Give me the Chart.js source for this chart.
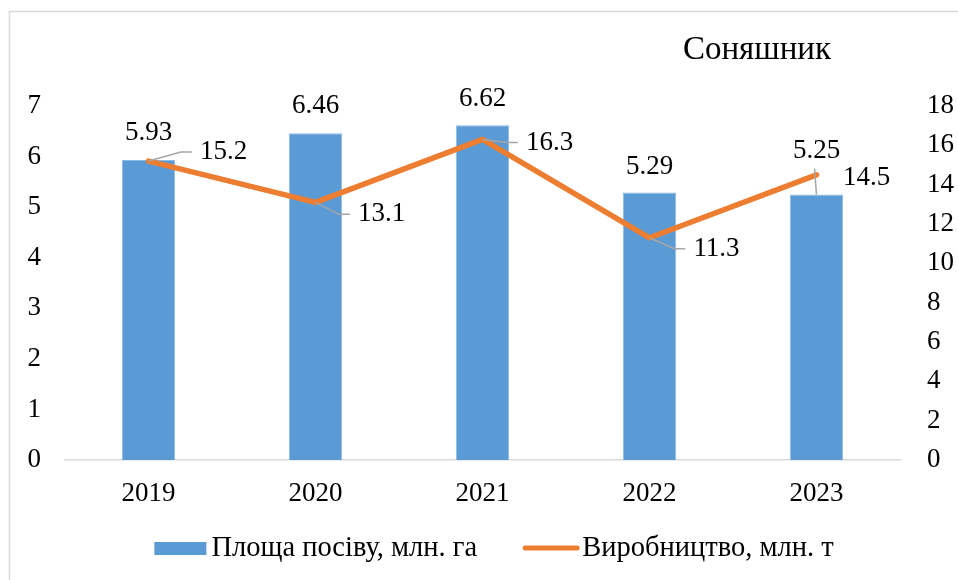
<!DOCTYPE html>
<html>
<head>
<meta charset="utf-8">
<script src="https://cdn.jsdelivr.net/npm/chart.js@4"></script>
<style>
  html, body { margin: 0; padding: 0; background: #fff; }
  canvas { display: block; }
</style>
</head>
<body>
<canvas id="chart" width="958" height="580"></canvas>
<script>
const years = [`2019`, `2020`, `2021`, `2022`, `2023`];
const areaValues = [5.93, 6.46, 6.62, 5.29, 5.25];
const productionValues = [15.2, 13.1, 16.3, 11.3, 14.5];
const areaLabel = `Площа посіву, млн. га`;
const productionLabel = `Виробництво, млн. т`;
const chartTitle = `Соняшник`;

const FONT = `"Liberation Serif", "Times New Roman", serif`;
const BLUE = `#5B9BD5`;
const ORANGE = `#ED7D31`;
const LEADER = `#A6A6A6`;

// label placement relative to the point: [dx, dy, leader?]
const areaLabelShift = [[0, -27, false], [0, -27, false], [0, -26, false], [0, -26, false], [0, -44, true]];
const productionLabelShift = [[75, -9, true], [66, 12, true], [67, 3, true], [67, 11, true], [50, 3, false]];

const frame = {
  id: `frame`,
  beforeDraw(chart) {
    const {ctx} = chart;
    ctx.save();
    ctx.fillStyle = `#fff`;
    ctx.fillRect(0, 0, chart.width, chart.height);
    ctx.strokeStyle = `#D9D9D9`;
    ctx.lineWidth = 1.5;
    ctx.strokeRect(9.5, 11.5, 1000, 1000);
    ctx.fillStyle = `#000`;
    ctx.font = `33px ${FONT}`;
    ctx.textAlign = `center`;
    ctx.textBaseline = `middle`;
    ctx.fillText(chartTitle, 757, 50);
    ctx.restore();
  }
};

// legend drawn by hand: bar swatch + line swatch, centred under the plot
const bottomLegend = {
  id: `bottomLegend`,
  afterDraw(chart) {
    const {ctx} = chart;
    const y = 549;
    ctx.save();
    ctx.font = `28.5px ${FONT}`;
    ctx.textBaseline = `middle`;
    ctx.textAlign = `left`;
    const w1 = ctx.measureText(areaLabel).width;
    const w2 = ctx.measureText(productionLabel).width;
    const total = 52 + 5 + w1 + 46 + 56 + 3 + w2;
    let x = 494 - total / 2;

    ctx.fillStyle = BLUE;
    ctx.fillRect(x, y - 7, 52, 13);
    x += 57;
    ctx.fillStyle = `#000`;
    ctx.fillText(areaLabel, x, y);
    x += w1 + 46;

    ctx.strokeStyle = ORANGE;
    ctx.lineWidth = 5;
    ctx.lineCap = `round`;
    ctx.beginPath();
    ctx.moveTo(x + 2, y - 1);
    ctx.lineTo(x + 54, y - 1);
    ctx.stroke();
    x += 59;
    ctx.fillText(productionLabel, x, y);
    ctx.restore();
  }
};

const valueLabels = {
  id: `valueLabels`,
  afterDatasetsDraw(chart) {
    const {ctx} = chart;
    ctx.save();
    ctx.font = `27px ${FONT}`;
    ctx.textAlign = `center`;
    ctx.textBaseline = `middle`;

    const drawSet = (index, values, shifts) => {
      chart.getDatasetMeta(index).data.forEach((el, i) => {
        const [dx, dy, leader] = shifts[i];
        const x = el.x;
        const y = el.y;
        const text = String(values[i]);
        const w = ctx.measureText(text).width;
        if (leader) {
          ctx.strokeStyle = LEADER;
          ctx.lineWidth = 1.5;
          ctx.beginPath();
          ctx.moveTo(x, y);
          if (dx === 0) {
            ctx.lineTo(x - 2, y + dy + 18);
          } else {
            const ex = x + dx - w / 2 - 8;
            const ey = y + dy;
            ctx.lineTo(ex - 11, ey);
            ctx.lineTo(ex, ey);
          }
          ctx.stroke();
        }
        ctx.fillStyle = `#000`;
        ctx.fillText(text, x + dx, y + dy);
      });
    };

    drawSet(0, areaValues, areaLabelShift);
    drawSet(1, productionValues, productionLabelShift);
    ctx.restore();
  }
};

Chart.defaults.font.family = FONT;
Chart.defaults.color = `#000`;

new Chart(document.getElementById(`chart`), {
  data: {
    labels: years,
    datasets: [
      {
        type: `bar`,
        label: areaLabel,
        data: areaValues,
        backgroundColor: BLUE,
        borderColor: `#8DBAE3`,
        borderWidth: 1,
        barPercentage: 0.32,
        categoryPercentage: 1,
        yAxisID: `y`,
        order: 2
      },
      {
        type: `line`,
        label: productionLabel,
        data: productionValues,
        borderColor: ORANGE,
        backgroundColor: ORANGE,
        borderWidth: 5.5,
        borderCapStyle: `round`,
        borderJoinStyle: `round`,
        pointRadius: 0,
        tension: 0,
        yAxisID: `y1`,
        order: 1
      }
    ]
  },
  options: {
    responsive: false,
    animation: false,
    devicePixelRatio: 1,
    layout: {padding: {top: 106, left: 0, right: 0, bottom: 10}},
    scales: {
      x: {
        grid: {display: false, drawTicks: false},
        border: {color: `#D9D9D9`, width: 1.5},
        ticks: {font: {size: 27}, padding: 18},
        afterFit(scale) {
          scale.height = 110;
        }
      },
      y: {
        position: `left`,
        min: 0,
        max: 7,
        ticks: {stepSize: 1, font: {size: 27}, padding: 24},
        grid: {display: false, drawTicks: false},
        border: {display: false},
        afterFit(scale) {
          scale.width = 65;
        }
      },
      y1: {
        position: `right`,
        min: 0,
        max: 18,
        ticks: {stepSize: 2, font: {size: 27}, padding: 27},
        grid: {display: false, drawTicks: false},
        border: {display: false},
        afterFit(scale) {
          scale.width = 58;
        }
      }
    },
    plugins: {
      legend: {display: false},
      tooltip: {enabled: false}
    }
  },
  plugins: [frame, valueLabels, bottomLegend]
});
</script>
</body>
</html>
